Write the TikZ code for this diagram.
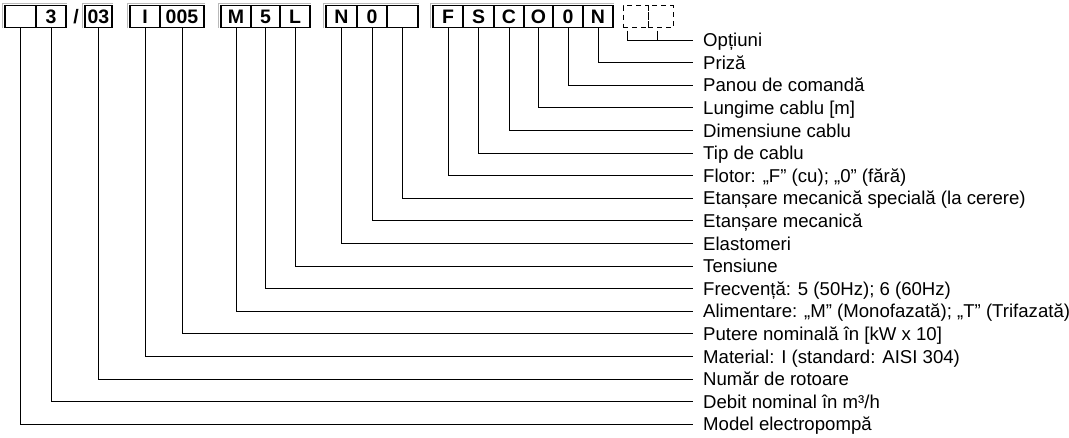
\documentclass[tikz,border=0pt]{standalone}
\usepackage{fontspec}
\setmainfont{Liberation Sans}
\begin{document}
\begin{tikzpicture}[x=1pt,y=-1pt,
  cell/.style={draw, line width=1.1pt, minimum height=22pt, inner sep=0pt,
    font=\bfseries\fontsize{19.5}{21}\selectfont},
  optcell/.style={draw, line width=1pt, dash pattern=on 5pt off 4pt, minimum height=22pt, inner sep=0pt},
  lab/.style={anchor=west, inner sep=0pt, text height=13.4pt, text depth=0pt,
    font=\fontsize{18.6}{20}\selectfont},
  conn/.style={line width=0.9pt},
  shadowline/.style={gray!55, line width=0.8pt}]
\useasboundingbox (0,0) rectangle (1069,437);

% code cells
\node[cell, minimum width=31pt] (m0) at (20.5,16.5) {};
\node[cell, minimum width=30pt] (m1) at (51,16.5) {3};
\node[inner sep=0pt, font=\bfseries\fontsize{19.5}{21}\selectfont] (sl) at (76,16.5) {/};
\node[cell, minimum width=27pt] (m2) at (98.5,16.5) {03};
\node[cell, minimum width=30pt] (m3) at (145,16.5) {I};
\node[cell, minimum width=44pt] (m4) at (182,16.5) {005};
\node[cell, minimum width=30pt] (m5) at (236,16.5) {M};
\node[cell, minimum width=29pt] (m6) at (265.5,16.5) {5};
\node[cell, minimum width=30pt] (m7) at (295,16.5) {L};
\node[cell, minimum width=31pt] (m8) at (341.5,16.5) {N};
\node[cell, minimum width=30pt] (m9) at (372,16.5) {0};
\node[cell, minimum width=31pt] (m10) at (402.5,16.5) {};
\node[cell, minimum width=30pt] (m11) at (448,16.5) {F};
\node[cell, minimum width=31pt] (m12) at (478.5,16.5) {S};
\node[cell, minimum width=30pt] (m13) at (509,16.5) {C};
\node[cell, minimum width=29pt] (m14) at (538.5,16.5) {O};
\node[cell, minimum width=30pt] (m15) at (568,16.5) {0};
\node[cell, minimum width=30pt] (m16) at (598,16.5) {N};
\node[optcell, minimum width=25pt] (o1) at (635.5,16.5) {};
\node[optcell, minimum width=25pt] (o2) at (660.5,16.5) {};

% light top-left edges of the groups
\draw[shadowline] ([xshift=-1.8pt]m0.south west) |- ([yshift=1.8pt]m1.north east);
\draw[shadowline] ([xshift=-1.8pt]m2.south west) |- ([yshift=1.8pt]m2.north east);
\draw[shadowline] ([xshift=-1.8pt]m3.south west) |- ([yshift=1.8pt]m4.north east);
\draw[shadowline] ([xshift=-1.8pt]m5.south west) |- ([yshift=1.8pt]m7.north east);
\draw[shadowline] ([xshift=-1.8pt]m8.south west) |- ([yshift=1.8pt]m10.north east);
\draw[shadowline] ([xshift=-1.8pt]m11.south west) |- ([yshift=1.8pt]m16.north east);

% labels
\node[lab] (l0) at (703,40) {Opțiuni};
\node[lab] (l1) at (703,62.6) {Priză};
\node[lab] (l2) at (703,85.2) {Panou de comandă};
\node[lab] (l3) at (703,107.8) {Lungime cablu [m]};
\node[lab] (l4) at (703,130.4) {Dimensiune cablu};
\node[lab] (l5) at (703,153) {Tip de cablu};
\node[lab] (l6) at (703,175.6) {Flotor: „F” (cu); „0” (fără)};
\node[lab] (l7) at (703,198.2) {Etanșare mecanică specială (la cerere)};
\node[lab] (l8) at (703,220.8) {Etanșare mecanică};
\node[lab] (l9) at (703,243.4) {Elastomeri};
\node[lab] (l10) at (703,266) {Tensiune};
\node[lab] (l11) at (703,288.6) {Frecvență: 5 (50Hz); 6 (60Hz)};
\node[lab] (l12) at (703,311.2) {Alimentare: „M” (Monofazată); „T” (Trifazată)};
\node[lab] (l13) at (703,333.8) {Putere nominală în [kW x 10]};
\node[lab] (l14) at (703,356.4) {Material: I (standard: AISI 304)};
\node[lab] (l15) at (703,379) {Număr de rotoare};
\node[lab] (l16) at (703,401.6) {Debit nominal în m³/h};
\node[lab] (l17) at (703,424.2) {Model electropompă};

% option bracket
\coordinate (b1) at (627,30.5);
\coordinate (b2) at (657,30.5);
\draw[conn] (b1) |- ([xshift=-10pt]l0.west);
\draw[conn] (b2) -- (b2 |- l0.west);

% connectors
\draw[conn] (m16.south) |- ([xshift=-10pt]l1.west);
\draw[conn] (m15.south) |- ([xshift=-10pt]l2.west);
\draw[conn] (m14.south) |- ([xshift=-10pt]l3.west);
\draw[conn] (m13.south) |- ([xshift=-10pt]l4.west);
\draw[conn] (m12.south) |- ([xshift=-10pt]l5.west);
\draw[conn] (m11.south) |- ([xshift=-10pt]l6.west);
\draw[conn] (m10.south) |- ([xshift=-10pt]l7.west);
\draw[conn] (m9.south) |- ([xshift=-10pt]l8.west);
\draw[conn] (m8.south) |- ([xshift=-10pt]l9.west);
\draw[conn] (m7.south) |- ([xshift=-10pt]l10.west);
\draw[conn] (m6.south) |- ([xshift=-10pt]l11.west);
\draw[conn] (m5.south) |- ([xshift=-10pt]l12.west);
\draw[conn] (m4.south) |- ([xshift=-10pt]l13.west);
\draw[conn] (m3.south) |- ([xshift=-10pt]l14.west);
\draw[conn] (m2.south) |- ([xshift=-10pt]l15.west);
\draw[conn] (m1.south) |- ([xshift=-10pt]l16.west);
\draw[conn] (m0.south) |- ([xshift=-10pt]l17.west);
\end{tikzpicture}
\end{document}
